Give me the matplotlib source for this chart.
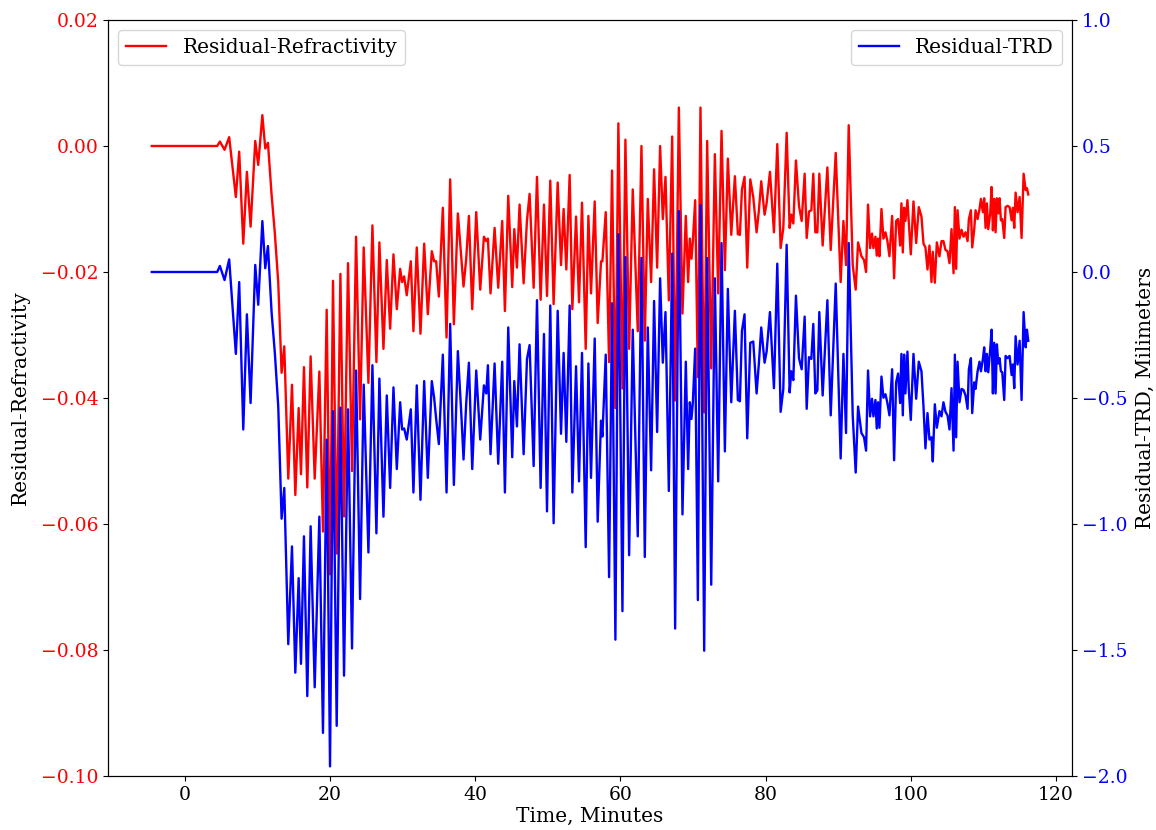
import matplotlib
matplotlib.use("Agg")
import matplotlib.pyplot as plt

plt.rcParams['font.family'] = 'DejaVu Serif'
plt.rcParams['font.size'] = 14.5
plt.rcParams['xtick.labelsize'] = 13.5
plt.rcParams['ytick.labelsize'] = 13.5

# time axis (minutes) at the local peaks/troughs
time_min = [
    -4.55, 4.46, 4.83, 5.47, 6.11, 7.03, 7.49, 8.05, 8.55, 9.06,
    9.70, 10.11, 10.68, 11.08, 11.45, 11.95, 12.41, 12.87, 13.33, 13.70,
    14.25, 14.76, 15.22, 15.68, 16.00, 16.41, 16.87, 17.33, 17.89, 18.53,
    19.03, 19.54, 20.00, 20.41, 20.92, 21.43, 21.93, 22.48, 23.03, 23.59,
    24.14, 24.64, 25.29, 25.84, 26.39, 26.80, 27.36, 27.82, 28.28,
    28.74, 29.20, 29.66, 29.93, 30.21, 30.57, 31.13, 31.49, 31.95, 32.46,
    32.97, 33.47, 34.02, 34.34, 34.62, 34.99, 35.54, 36.05, 36.55, 37.06,
    37.61, 38.12, 38.39, 38.76, 39.13, 39.59, 40.14, 40.69, 41.20, 41.52,
    41.75, 42.11, 42.67, 43.17, 43.72, 44.09, 44.55,
    45.10, 45.38, 45.75, 46.11, 46.67, 47.13, 47.49, 48.05, 48.51, 49.01,
    49.47, 49.89, 50.34, 50.80, 51.36, 51.82, 52.18, 52.55, 53.01, 53.38,
    53.89, 54.30, 54.71, 55.22, 55.59, 55.95, 56.46, 56.87, 57.33, 57.52,
    57.98, 58.44, 58.85, 59.31, 59.72, 60.28, 60.69, 61.20,
    61.70, 62.39, 62.90, 63.36, 63.77, 64.23, 64.64, 65.06, 65.47, 65.84,
    66.21, 66.67, 67.13, 67.54, 68.05, 68.55, 69.01, 69.33, 69.56, 69.79,
    69.98, 70.30, 70.67, 71.03, 71.54, 71.95, 72.51, 73.01, 73.47, 73.93,
    74.39, 74.80, 75.27, 75.77, 76.18, 76.46, 76.74, 77.10, 77.47, 77.89,
    78.30, 78.76, 79.08, 79.40, 79.86, 80.14, 80.60, 81.15, 81.61, 82.07,
    82.44, 82.90, 83.31, 83.54, 83.82, 84.18, 84.60, 84.97, 85.38, 85.66,
    85.98, 86.30, 86.57, 86.85, 87.13, 87.40, 87.86, 88.51, 88.97, 89.66,
    90.34, 90.72, 91.08, 91.45, 92.00, 92.41, 92.74, 93.20, 93.56, 93.84,
    94.11, 94.39, 94.66, 94.85, 95.13, 95.31, 95.49, 95.68, 95.96, 96.23,
    96.51, 96.78, 97.06, 97.43, 97.70, 97.98, 98.25, 98.53, 98.71, 98.90,
    99.08, 99.26, 99.54, 99.72, 100.00, 100.37, 100.74, 101.10, 101.47, 101.75,
    102.02, 102.30, 102.57, 102.85, 103.03, 103.31, 103.59, 103.95, 104.23, 104.50,
    104.78, 105.06, 105.33, 105.61, 105.89, 106.07, 106.25, 106.44, 106.71, 106.99,
    107.26, 107.54, 107.82, 108.00,
    108.28, 108.46, 108.74, 108.92, 109.20, 109.47, 109.66, 109.93, 110.11, 110.30,
    110.48, 110.67, 110.94, 111.13, 111.31, 111.49, 111.68, 111.86, 112.05, 112.23,
    112.41, 112.60, 112.87, 113.06, 113.33, 113.61, 113.89, 114.07, 114.25, 114.44,
    114.71, 114.99, 115.26, 115.54, 115.82, 116.00, 116.18,
]

residual_refractivity = [
    0.0, 0.0, 0.0007, -0.0006, 0.0014, -0.0081, -0.0009, -0.0155, -0.0041, -0.0128,
    0.0008, -0.0030, 0.0049, -0.0004, 0.0005, -0.0077, -0.0140, -0.0217, -0.0360, -0.0318,
    -0.0528, -0.0379, -0.0554, -0.0416, -0.0521, -0.0351, -0.0542, -0.0334, -0.0528, -0.0358,
    -0.0612, -0.0260, -0.0680, -0.0214, -0.0647, -0.0203, -0.0588, -0.0186, -0.0516, -0.0144,
    -0.0434, -0.0161, -0.0376, -0.0126, -0.0343, -0.0153, -0.0322, -0.0181, -0.0290,
    -0.0172, -0.0259, -0.0195, -0.0216, -0.0207, -0.0237, -0.0183, -0.0294, -0.0161, -0.0298,
    -0.0155, -0.0267, -0.0167, -0.0183, -0.0183, -0.0239, -0.0098, -0.0304, -0.0053, -0.0283,
    -0.0107, -0.0182, -0.0223, -0.0179, -0.0111, -0.0259, -0.0105, -0.0228, -0.0144, -0.0151,
    -0.0147, -0.0234, -0.0130, -0.0225, -0.0119, -0.0262, -0.0079,
    -0.0224, -0.0132, -0.0193, -0.0093, -0.0218, -0.0118, -0.0076, -0.0225, -0.0049, -0.0244,
    -0.0093, -0.0238, -0.0055, -0.0251, -0.0058, -0.0189, -0.0100, -0.0196, -0.0046, -0.0259,
    -0.0112, -0.0248, -0.0090, -0.0322, -0.0111, -0.0234, -0.0088, -0.0281, -0.0183, -0.0183,
    -0.0105, -0.0343, -0.0039, -0.0416, 0.0036, -0.0385, 0.0010, -0.0322,
    -0.0069, -0.0294, 0.0000, -0.0309, -0.0084, -0.0216, -0.0037, -0.0193, 0.0000, -0.0116,
    -0.0049, -0.0245, 0.0015, -0.0404, 0.0061, -0.0266, -0.0111, -0.0216, -0.0147, -0.0179,
    -0.0151, -0.0086, -0.0367, 0.0061, -0.0423, 0.0008, -0.0353, -0.0013, -0.0234, 0.0024,
    -0.0197, -0.0020, -0.0141, -0.0048, -0.0140, -0.0141, -0.0069, -0.0049, -0.0193, -0.0053,
    -0.0081, -0.0137, -0.0102, -0.0056, -0.0109, -0.0091, -0.0041, -0.0137, 0.0003, -0.0162,
    -0.0130, 0.0021, -0.0130, -0.0109, -0.0123, -0.0023, -0.0095, -0.0119, -0.0044, -0.0146,
    -0.0104, -0.0102, -0.0044, -0.0137, -0.0137, -0.0044, -0.0158, -0.0034, -0.0165, -0.0011,
    -0.0216, -0.0119, -0.0189, 0.0033, -0.0189, -0.0228, -0.0153, -0.0175, -0.0181, -0.0200,
    -0.0093, -0.0162, -0.0139, -0.0162, -0.0144, -0.0174, -0.0147, -0.0175, -0.0100, -0.0147,
    -0.0137, -0.0151, -0.0175, -0.0111, -0.0210, -0.0119, -0.0116, -0.0158, -0.0091, -0.0169,
    -0.0098, -0.0119, -0.0086, -0.0119, -0.0172, -0.0088, -0.0154, -0.0097, -0.0112, -0.0155,
    -0.0161, -0.0196, -0.0158, -0.0216, -0.0168, -0.0217, -0.0153, -0.0175, -0.0151, -0.0151,
    -0.0165, -0.0167, -0.0186, -0.0132, -0.0202, -0.0097, -0.0195, -0.0102, -0.0147, -0.0133,
    -0.0144, -0.0137, -0.0151, -0.0116,
    -0.0102, -0.0161, -0.0132, -0.0102, -0.0116, -0.0100, -0.0084, -0.0105, -0.0083, -0.0130,
    -0.0091, -0.0132, -0.0107, -0.0065, -0.0134, -0.0084, -0.0137, -0.0083, -0.0107, -0.0083,
    -0.0118, -0.0116, -0.0146, -0.0097, -0.0095, -0.0097, -0.0118, -0.0098, -0.0130, -0.0074,
    -0.0105, -0.0081, -0.0146, -0.0044, -0.0070, -0.0067, -0.0077,
]

residual_trd_mm = [
    0.0, 0.0, 0.024, -0.032, 0.050, -0.325, -0.040, -0.625, -0.168, -0.520,
    0.028, -0.130, 0.202, 0.015, 0.103, -0.159, -0.325, -0.534, -0.979, -0.857,
    -1.477, -1.089, -1.590, -1.215, -1.555, -1.049, -1.683, -1.009, -1.648, -0.971,
    -1.829, -0.665, -1.962, -0.552, -1.801, -0.538, -1.602, -0.545, -1.494, -0.391,
    -1.298, -0.447, -1.113, -0.370, -1.037, -0.423, -0.971, -0.490, -0.857,
    -0.458, -0.782, -0.517, -0.625, -0.621, -0.665, -0.545, -0.875, -0.450, -0.904,
    -0.433, -0.817, -0.433, -0.499, -0.583, -0.683, -0.328, -0.875, -0.206, -0.845,
    -0.314, -0.583, -0.744, -0.520, -0.360, -0.782, -0.391, -0.665, -0.450, -0.482,
    -0.370, -0.723, -0.363, -0.761, -0.356, -0.875, -0.220,
    -0.735, -0.433, -0.613, -0.287, -0.723, -0.346, -0.290, -0.770, -0.112, -0.857,
    -0.246, -0.950, -0.133, -0.997, -0.154, -0.642, -0.321, -0.674, -0.133, -0.875,
    -0.374, -0.831, -0.321, -1.092, -0.363, -0.817, -0.264, -0.991, -0.590, -0.653,
    -0.328, -1.211, -0.124, -1.459, 0.150, -1.346, 0.059, -1.124,
    -0.229, -1.049, 0.056, -1.131, -0.220, -0.787, -0.115, -0.635, -0.025, -0.360,
    -0.159, -0.869, 0.073, -1.415, 0.242, -0.962, -0.356, -0.782, -0.517, -0.583,
    -0.517, -0.304, -1.302, 0.265, -1.503, 0.056, -1.241, -0.025, -0.831, 0.115,
    -0.712, -0.067, -0.517, -0.154, -0.508, -0.513, -0.234, -0.168, -0.660, -0.281,
    -0.276, -0.482, -0.360, -0.220, -0.360, -0.316, -0.159, -0.461, 0.033, -0.555,
    -0.464, 0.108, -0.478, -0.394, -0.429, -0.094, -0.342, -0.386, -0.177, -0.543,
    -0.338, -0.345, -0.206, -0.482, -0.470, -0.159, -0.490, -0.112, -0.569, -0.046,
    -0.740, -0.325, -0.639, 0.115, -0.569, -0.796, -0.534, -0.639, -0.656, -0.709,
    -0.391, -0.573, -0.503, -0.573, -0.508, -0.621, -0.517, -0.618, -0.415, -0.499,
    -0.485, -0.520, -0.569, -0.386, -0.747, -0.438, -0.403, -0.520, -0.325, -0.569,
    -0.328, -0.482, -0.316, -0.464, -0.587, -0.325, -0.503, -0.356, -0.394, -0.534,
    -0.700, -0.560, -0.665, -0.656, -0.752, -0.525, -0.618, -0.552, -0.573, -0.517,
    -0.555, -0.569, -0.625, -0.461, -0.709, -0.328, -0.656, -0.356, -0.517, -0.464,
    -0.468, -0.490, -0.543, -0.386,
    -0.342, -0.560, -0.438, -0.464, -0.394, -0.356, -0.394, -0.346, -0.299, -0.394,
    -0.325, -0.398, -0.308, -0.229, -0.482, -0.281, -0.482, -0.287, -0.363, -0.342,
    -0.394, -0.398, -0.508, -0.333, -0.342, -0.333, -0.409, -0.367, -0.461, -0.255,
    -0.367, -0.273, -0.508, -0.159, -0.299, -0.229, -0.273,
]

fig = plt.figure(figsize=(11.56, 8.30), dpi=100)
ax1 = fig.add_axes([0.0934, 0.0651, 0.834, 0.9108])
ax2 = ax1.twinx()

ax1.plot(time_min, residual_refractivity, color='red', lw=1.7,
         solid_joinstyle='round', label='Residual-Refractivity')
ax2.plot(time_min, residual_trd_mm, color='blue', lw=1.7,
         solid_joinstyle='round', label='Residual-TRD')

ax1.set_ylim(-0.10, 0.02)
ax2.set_ylim(-2.0, 1.0)
ax1.set_xticks([0, 20, 40, 60, 80, 100, 120])

ax1.set_xlabel('Time, Minutes', labelpad=2)
ax1.set_ylabel('Residual-Refractivity', labelpad=8)
ax2.set_ylabel('Residual-TRD, Milimeters', labelpad=6)
ax1.tick_params(axis='y', colors='red')
ax1.tick_params(axis='y', color='black')
ax2.tick_params(axis='y', colors='blue')
ax2.tick_params(axis='y', color='black')

ax1.legend(loc='upper left')
ax2.legend(loc='upper right')

fig.savefig('out.png', dpi=100)
